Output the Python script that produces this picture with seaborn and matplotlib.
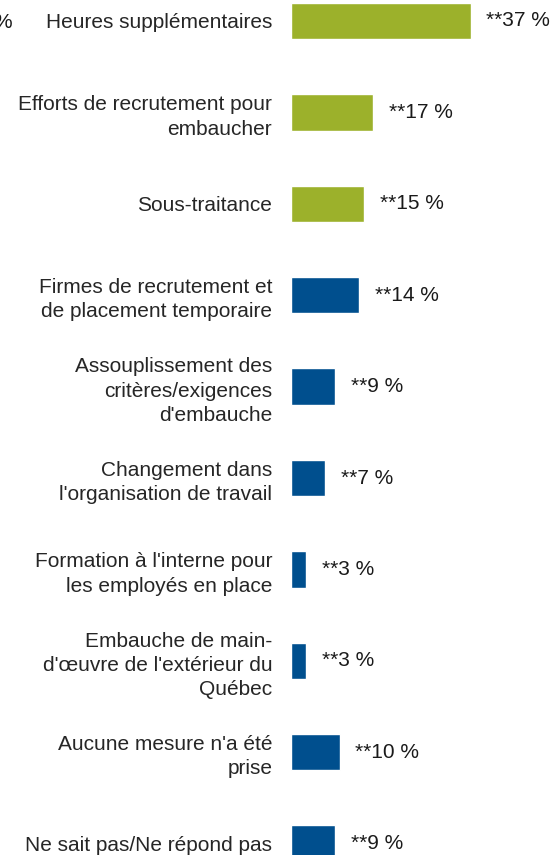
import pandas as pd
import seaborn as sns
import matplotlib.pyplot as plt

# data
labels = [
    "Heures supplémentaires",
    "Efforts de recrutement pour\nembaucher",
    "Sous-traitance",
    "Firmes de recrutement et\nde placement temporaire",
    "Assouplissement des\ncritères/exigences\nd'embauche",
    "Changement dans\nl'organisation de travail",
    "Formation à l'interne pour\nles employés en place",
    "Embauche de main-\nd'œuvre de l'extérieur du\nQuébec",
    "Aucune mesure n'a été\nprise",
    "Ne sait pas/Ne répond pas",
]
values = [37, 17, 15, 14, 9, 7, 3, 3, 10, 9]
groups = ["a", "a", "a", "b", "b", "b", "b", "b", "b", "b"]
value_text = ["**%d %%" % v for v in values]

GREEN = "#9CB12B"
BLUE = "#004F8E"

df = pd.DataFrame({"label": labels, "value": values, "group": groups})

sns.set_style("white")
plt.rcParams["font.family"] = ["Liberation Sans", "DejaVu Sans"]

W, H = 553, 855
fig = plt.figure(figsize=(W / 100, H / 100), dpi=100)
ax = fig.add_axes([291 / W, 0, 1 - 291 / W, 1])

sns.barplot(data=df, y="label", x="value", hue="group", orient="h",
            palette={"a": GREEN, "b": BLUE}, dodge=False, width=0.40,
            legend=False, ax=ax, saturation=1)

# one category step is ~91.4 px, first bar centred ~21 px from the top
step = 91.4
top = -21 / step
ax.set_xlim(0, 54)
ax.set_ylim(top + H / step, top)
ax.set_xlabel("")
ax.set_ylabel("")
ax.set_xticks([])
ax.tick_params(axis="y", length=0, pad=13.5, labelsize=15)
for t in ax.get_yticklabels():
    t.set_multialignment("right")
    t.set_linespacing(1.35)
for s in ax.spines.values():
    s.set_visible(False)

for i, v in enumerate(values):
    ax.annotate(value_text[i], (v, i), xytext=(11.5, 0), textcoords="offset points",
                ha="left", va="center", fontsize=15, color="#1a1a1a", annotation_clip=False)

# stray "%" cut off at the top-left edge
fig.text(12 / W, 1 - 22 / H, "%", ha="right", va="center", fontsize=15, color="#1a1a1a")

fig.savefig("out.png", dpi=100)
